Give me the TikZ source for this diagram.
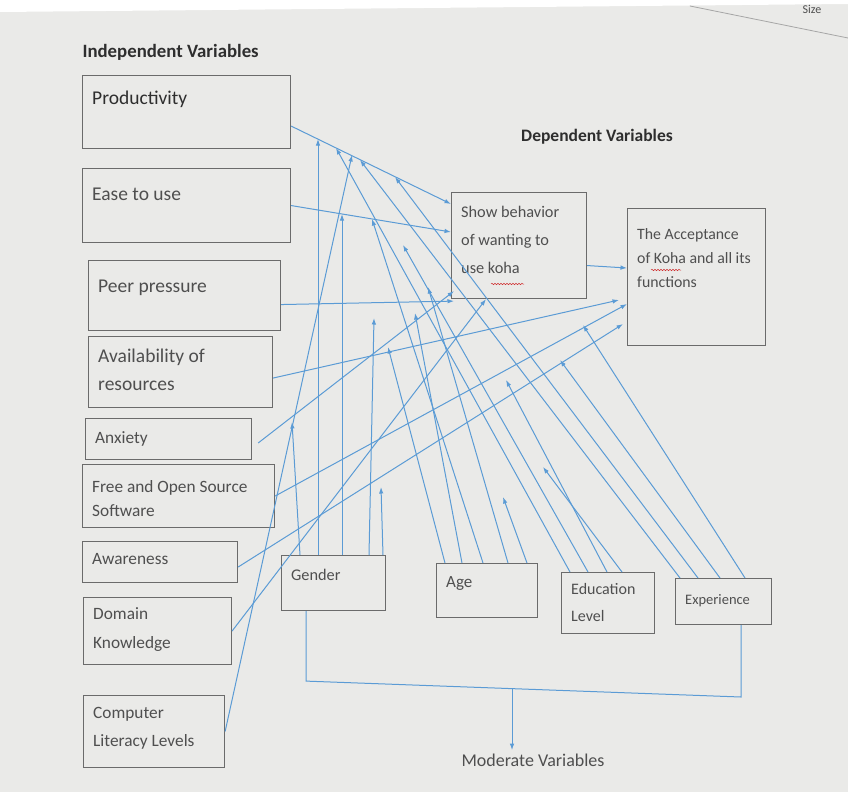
\documentclass[tikz,border=0pt]{standalone}
\usepackage{fontspec}
\setmainfont{Carlito}
\usetikzlibrary{arrows.meta,positioning,decorations.pathmorphing}
\definecolor{Screen}{HTML}{EAEAE8}
\definecolor{Wire}{HTML}{5B9BD5}
\definecolor{Frame}{HTML}{6B6B6B}
\definecolor{Ink}{HTML}{2E2E2E}
\definecolor{Mute}{HTML}{4F4F4F}
\definecolor{Spell}{HTML}{D03030}

\begin{document}
\begin{tikzpicture}[x=1pt,y=-1pt,
  vbox/.style={draw=Frame,line width=1.1pt,anchor=north west,inner sep=0pt},
  ivlbl/.style={anchor=north west,font=\fontsize{17.3}{28}\selectfont,text=Mute,align=left,inner xsep=10pt,inner ysep=#1},
  bigiv/.style={font=\fontsize{19.5}{28}\selectfont},
  dvlbl/.style={anchor=north west,font=\fontsize{16.3}{28}\selectfont,text=Mute,align=left,inner xsep=10pt,inner ysep=#1},
  mvlbl/.style={anchor=north west,font=\fontsize{16.3}{27}\selectfont,text=Mute,align=left,inner xsep=10pt,inner ysep=#1},
  heading/.style={font=\fontsize{17.5}{17.5}\selectfont\bfseries,text=Ink},
  wire/.style={Wire,line width=1pt,-{Latex[length=6.5pt,width=4.5pt]}},
  plain/.style={Wire,line width=1pt},
  squiggle/.style={Spell,line width=0.5pt,decorate,decoration={snake,amplitude=0.7pt,segment length=3pt}}]
  \useasboundingbox (0,0) rectangle (848,792);
  \fill[Screen] (0,0) rectangle (848,792);
  \fill[white] (0,0) -- (848,0) -- (848,4) -- (0,12) -- cycle;
  \draw[Frame!60,line width=0.8pt] (690,6) -- (848,38);
  \node[font=\fontsize{12}{12}\selectfont,text=Mute] (sizetag) at (812,9) {Size};

  \node[heading,anchor=west,font=\fontsize{18.8}{18.8}\selectfont\bfseries] (ivtitle) at (79,52) {Independent Variables};
  \node[heading] (dvtitle) at (597,137) {Dependent Variables};

  \node[vbox,minimum width=208,minimum height=73,label={[ivlbl=16pt,bigiv,text=Ink]north west:Productivity}] (prod) at (82,75) {};
  \node[vbox,minimum width=208,minimum height=74,label={[ivlbl=20pt,bigiv]north west:Ease to use}] (ease) at (82,168) {};
  \node[vbox,minimum width=192,minimum height=70,label={[ivlbl=20pt,bigiv]north west:Peer pressure}] (peer) at (88,260) {};
  \node[vbox,minimum width=184,minimum height=71,label={[ivlbl=13pt,bigiv]north west:{Availability of\\resources}}] (avail) at (88,336) {};
  \node[vbox,minimum width=166,minimum height=41,label={[ivlbl=13pt]north west:Anxiety}] (anx) at (85,418) {};
  \node[vbox,minimum width=192,minimum height=63,label={[ivlbl=16pt,font=\fontsize{17.3}{24}\selectfont]north west:{Free and Open Source\\Software}}] (foss) at (82,464) {};
  \node[vbox,minimum width=155,minimum height=41,label={[ivlbl=12pt]north west:Awareness}] (aware) at (82,541) {};
  \node[vbox,minimum width=148,minimum height=67,label={[ivlbl=10pt,font=\fontsize{17.3}{29}\selectfont]north west:{Domain\\Knowledge}}] (domain) at (83,597) {};
  \node[vbox,minimum width=141,minimum height=72,label={[ivlbl=12pt]north west:{Computer\\Literacy Levels}}] (comp) at (83,695) {};

  \node[vbox,minimum width=135,minimum height=106,label={[dvlbl=14pt]north west:{Show behavior\\of wanting to\\use koha}}] (show) at (451,192) {};
  \node[vbox,minimum width=138,minimum height=137,label={[dvlbl=20pt,font=\fontsize{15.8}{24}\selectfont]north west:{The Acceptance\\of Koha and all its\\functions}}] (accept) at (627,208) {};

  \node[vbox,minimum width=104,minimum height=55,label={[mvlbl=14pt]north west:Gender}] (gender) at (281,555) {};
  \node[vbox,minimum width=101,minimum height=54,label={[mvlbl=13pt,font=\fontsize{17}{27}\selectfont]north west:Age}] (age) at (436,563) {};
  \node[vbox,minimum width=93,minimum height=61,label={[mvlbl=11pt,font=\fontsize{16}{27}\selectfont]north west:{Education\\Level}}] (edu) at (561,572) {};
  \node[vbox,minimum width=96,minimum height=46,label={[mvlbl=16pt,font=\fontsize{14.5}{27}\selectfont]north west:Experience}] (exper) at (675,578) {};

  \draw[squiggle] (491,284) -- (524,284);
  \draw[squiggle] (651,270) -- (681,270);

  \draw[wire] ([yshift=-14pt]prod.east) -- ([yshift=-12pt]show.north west);
  \draw[wire] (ease.east) -- ([yshift=-40pt]show.north west);
  \draw[wire] ([yshift=-9pt]peer.east) -- ([xshift=3pt,yshift=-2pt]show.south west);
  \draw[wire] ([xshift=6pt,yshift=-4pt]anx.east) -- ([xshift=3pt,yshift=8pt]show.south west);
  \draw[wire] (domain.east) -- ([xshift=35pt]show.south west);
  \draw[wire] ([yshift=-20pt]show.east) -- ([yshift=-60pt]accept.north west);
  \draw[wire] ([yshift=-6pt]avail.east) -- ([xshift=-8pt,yshift=-92pt]accept.north west);
  \draw[wire] (foss.east) -- ([yshift=-96pt]accept.north west);
  \draw[wire] ([yshift=-5pt]aware.east) -- ([xshift=-4pt,yshift=-116pt]accept.north west);

  \foreach \m/\x/\y in {m1/292/422, m2/318/139, m3/342/214, m4/374/318, m5/381/487,
      m6/352/155, m7/388/347, m8/415/313, m9/372/219, m10/428/287, m11/503/497,
      m12/336/148, m13/403/245, m14/506/380, m15/543/467, m16/360/160, m17/395/177,
      m18/560/360, m19/583/325}
    \coordinate (\m) at (\x,\y);
  \draw[wire] (comp.east) -- (m6);
  \foreach \n/\dx/\m in {gender/19/m1, gender/37/m2, gender/61/m3, gender/88/m4, gender/102/m5,
      age/9/m7, age/26/m8, age/47/m9, age/72/m10, age/91/m11,
      edu/9/m12, edu/27/m13, edu/46/m14, edu/61/m15,
      exper/5/m16, exper/23/m17, exper/45/m18, exper/70/m19}
    \draw[wire] ([xshift=\dx pt]\n.north west) -- (\m);

  \node[font=\fontsize{18}{18}\selectfont,text=Mute] (modlbl) at (533,760) {Moderate Variables};
  \coordinate (br) at (741,697);
  \coordinate (bmid) at (512,688);
  \draw[plain] ([xshift=25pt]gender.south west) -- ++(0,70) -- (br) -- ([xshift=66pt]exper.south west);
  \draw[wire] (bmid) -- (bmid |- modlbl.north);
\end{tikzpicture}
\end{document}
